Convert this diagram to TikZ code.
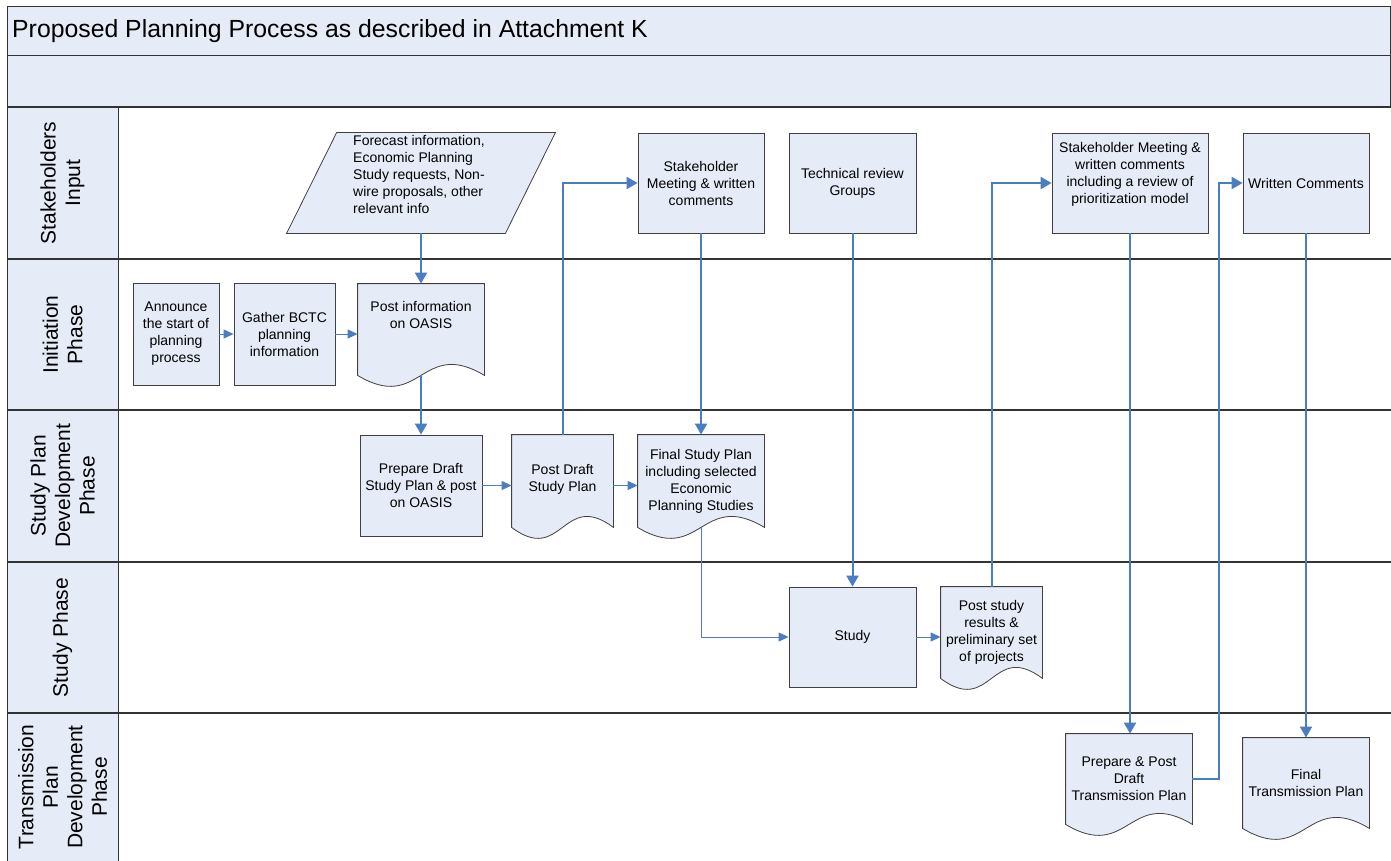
\documentclass[tikz,border=0pt]{standalone}
\usepackage{fontspec}
\setmainfont{Liberation Sans}
\usetikzlibrary{arrows.meta,calc,backgrounds}

\definecolor{boxfill}{RGB}{230,236,247}
\definecolor{boxline}{RGB}{64,64,64}
\definecolor{laneline}{RGB}{51,51,51}
\definecolor{flow}{RGB}{74,126,193}

\newcommand\boxfont{\fontsize{14}{17}\selectfont}
\newcommand\lanefont{\fontsize{21}{24.5}\selectfont}
\newcommand\titlefont{\fontsize{24.8}{29}\selectfont}

\tikzset{
  box/.style={draw=boxline, fill=boxfill, line width=0.8pt, align=center, font=\boxfont, inner sep=2pt},
  doc/.style={box, draw=none, fill=none},
  docline/.style={draw=boxline, fill=boxfill, line width=0.8pt},
  lane/.style={rotate=90, align=center, font=\lanefont},
  flowthick/.style={draw=flow, line width=2pt, -{Triangle[length=11pt,width=12pt]}},
  flowthin/.style={draw=flow, line width=1pt, -{Triangle[length=10pt,width=9pt]}},
}

% document symbol with wavy bottom, drawn round a node
\newcommand\docwave[1]{%
  \filldraw[docline] (#1.north west) -- (#1.north east) -- (#1.south east)
    .. controls ($(#1.south)+(0,-38)$) and ($(#1.south)+(0,38)$) .. (#1.south west) -- cycle;}

\begin{document}
\begin{tikzpicture}[x=1pt, y=-1pt]
  \useasboundingbox (0,0) rectangle (1391,861);

  % frame and swimlanes
  \fill[boxfill] (7,7) rectangle (1390,107);
  \fill[boxfill] (7,107) rectangle (118,861);
  \draw[laneline, line width=1pt] (7,861) -- (7,7) -- (1390,7) -- (1390,107);
  \draw[laneline, line width=1pt] (7,56) -- (1390,56);
  \foreach \y in {107,259,410,562,713}
    \draw[laneline, line width=1.8pt] (7,\y) -- (1391,\y);
  \draw[laneline, line width=1pt] (118,107) -- (118,861);

  \node[anchor=west, font=\titlefont, inner sep=0] (title) at (12,31)
    {Proposed Planning Process as described in Attachment K};

  \node[lane] (laneinput) at (62.5,183) {Stakeholders\\Input};
  \node[lane] (laneinit) at (62.5,334.5) {Initiation\\Phase};
  \node[lane] (lanestudyplan) at (62.5,486) {Study Plan\\Development\\Phase};
  \node[lane] (lanestudy) at (62.5,637.5) {Study Phase};
  \node[lane] (lanetrans) at (62.5,787) {Transmission\\Plan\\Development\\Phase};

  % stakeholders input
  \node[box, draw=none, fill=none, minimum width=168, minimum height=100] (forecast) at (421,183) {};
  \node[anchor=north west, align=left, font=\boxfont, inner sep=0] (forecasttext) at (353,135)
    {Forecast information,\\Economic Planning\\Study requests, Non-\\wire proposals, other\\relevant info};
  \node[box, minimum width=126, minimum height=100] (stake1) at (701,183)
    {Stakeholder\\Meeting \& written\\comments};
  \node[box, minimum width=127, minimum height=100] (tech) at (852.5,183)
    {Technical review\\Groups};
  \node[box, minimum width=156, minimum height=100, text depth=20] (stake2) at (1130,183)
    {Stakeholder Meeting \&\\written comments\\including a review of\\prioritization model};
  \node[box, minimum width=126, minimum height=100] (written) at (1306,183)
    {Written Comments};

  % initiation
  \node[box, minimum width=86, minimum height=102] (announce) at (176,334)
    {Announce\\the start of\\planning\\process};
  \node[box, minimum width=101, minimum height=102] (gather) at (284.5,334)
    {Gather BCTC\\planning\\information};
  \node[doc, minimum width=126, minimum height=91, text depth=30] (postinfo) at (421,329.5)
    {Post information\\on OASIS};

  % study plan development
  \node[box, minimum width=122, minimum height=101] (prepare) at (421,485.5)
    {Prepare Draft\\Study Plan \& post\\on OASIS};
  \node[doc, minimum width=101, minimum height=92, text depth=6] (postdraft) at (562.5,481)
    {Post Draft\\Study Plan};
  \node[doc, minimum width=126, minimum height=92] (final) at (701,481)
    {Final Study Plan\\including selected\\Economic\\Planning Studies};

  % study
  \node[box, minimum width=127, minimum height=100] (study) at (852.5,637) {Study};
  \node[doc, minimum width=101, minimum height=91] (poststudy) at (991.5,632.5)
    {Post study\\results \&\\preliminary set\\of projects};

  % transmission plan development
  \node[doc, minimum width=126, minimum height=90] (pp) at (1129,779)
    {Prepare \& Post\\Draft\\Transmission Plan};
  \node[doc, minimum width=126, minimum height=90] (finaltp) at (1306,783)
    {Final\\Transmission Plan};

  \begin{scope}[on background layer]
    \filldraw[docline] (forecast.north west) -- ($(forecast.north east)+(50,0)$)
      -- (forecast.south east) -- ($(forecast.south west)+(-50,0)$) -- cycle;
    \docwave{postinfo}
    \docwave{postdraft}
    \docwave{final}
    \docwave{poststudy}
    \docwave{pp}
    \docwave{finaltp}
  \end{scope}

  % connectors
  \draw[flowthin] (announce) -- (gather);
  \draw[flowthin] (gather.east) -- (gather.east -| postinfo.west);
  \draw[flowthick] (forecast.south) -- (postinfo.north);
  \draw[flowthick] (postinfo.south) -- (prepare.north);
  \draw[flowthin] (prepare.east) -- (prepare.east -| postdraft.west);
  \draw[flowthin] (postdraft.east |- prepare.east) -- (final.west |- prepare.east);
  \draw[flowthick] (postdraft.north) |- (stake1.west);
  \draw[flowthick] (stake1.south) -- (final.north);
  \draw[flowthin] (final.south) |- (study.west);
  \draw[flowthick] (tech.south) -- (study.north);
  \draw[flowthin] (study.east) -- (study.east -| poststudy.west);
  \draw[flowthick] (poststudy.north) |- (stake2.west);
  \draw[flowthick] (stake2.south) -- (stake2.south |- pp.north);
  \draw[flowthick] (pp.east) -- ++(27,0) |- (written.west);
  \draw[flowthick] (written.south) -- (finaltp.north);
\end{tikzpicture}
\end{document}
